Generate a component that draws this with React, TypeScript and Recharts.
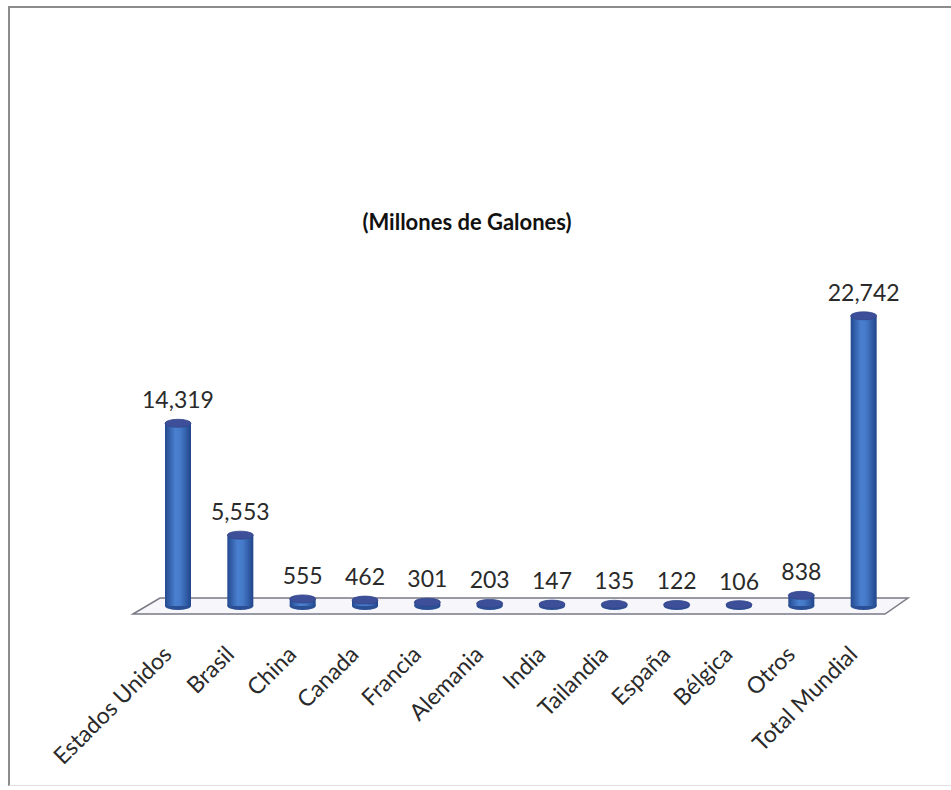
import { Bar, BarChart, LabelList, XAxis, YAxis } from "recharts";

const paises = [
  "Estados Unidos",
  "Brasil",
  "China",
  "Canada",
  "Francia",
  "Alemania",
  "India",
  "Tailandia",
  "España",
  "Bélgica",
  "Otros",
  "Total Mundial",
];

const galones = [14319, 5553, 555, 462, 301, 203, 147, 135, 122, 106, 838, 22742];

const data = paises.map((pais, i) => ({ pais, valor: galones[i] }));

const W = 951;
const H = 790;
const FONT = "Lato, 'Open Sans', sans-serif";

// floor of the 3d plot (decoration only)
const floorBackY = 598;
const floorFrontY = 614;

function Cylinder(props: any) {
  const { x, y, width, height } = props;
  if (x == null || y == null) return null;
  const cx = x + width / 2;
  const rx = width / 2;
  const ry = 4;
  const h = Math.max(height, 0);
  return (
    <g>
      <ellipse cx={cx} cy={y + h} rx={rx} ry={ry} fill="#2b4f94" />
      <rect x={x} y={y} width={width} height={h} fill="url(#cylBody)" />
      <ellipse cx={cx} cy={y} rx={rx} ry={ry} fill="#3d4f98" stroke="#34488c" strokeWidth={0.8} />
    </g>
  );
}

function ValueLabel(props: any) {
  const { x, y, width, value } = props;
  return (
    <text
      x={x + width / 2}
      y={y - 15}
      textAnchor="middle"
      fontFamily={FONT}
      fontSize={23}
      fill="#2a2a2a"
    >
      {Number(value).toLocaleString("en-US")}
    </text>
  );
}

function CategoryTick(props: any) {
  const { x, y, payload } = props;
  return (
    <text
      x={0}
      y={0}
      textAnchor="end"
      fontFamily={FONT}
      fontSize={23}
      fill="#2a2a2a"
      transform={`translate(${x - 5},${y + 42}) rotate(-45)`}
    >
      {payload.value}
    </text>
  );
}

export default function App() {
  return (
    <div style={{ position: "absolute", left: 0, top: 0, width: W, height: H, background: "#fff" }}>
      <div
        style={{
          position: "absolute",
          left: 8,
          top: 6,
          width: W - 8,
          height: 780,
          borderTop: "2px solid #8c8c8c",
          borderLeft: "2px solid #8c8c8c",
          borderBottom: "1px solid #e2e2e2",
          boxSizing: "border-box",
        }}
      />
      <svg width={W} height={H} style={{ position: "absolute", left: 0, top: 0 }}>
        <polygon
          points={`133,${floorFrontY} 160,${floorBackY} 908,${floorBackY} 885,${floorFrontY}`}
          fill="#f7f7fb"
          stroke="#7a7a86"
          strokeWidth={1.5}
        />
        <text
          x={467}
          y={230}
          textAnchor="middle"
          fontFamily={FONT}
          fontWeight="bold"
          fontSize={22}
          fill="#111"
        >
          (Millones de Galones)
        </text>
      </svg>
      <div style={{ position: "absolute", left: 0, top: 0 }}>
        <BarChart
          width={W}
          height={H}
          data={data}
          margin={{ top: 287, right: 56, bottom: 34, left: 147 }}
        >
          <defs>
            <linearGradient id="cylBody" x1="0" y1="0" x2="1" y2="0">
              <stop offset="0%" stopColor="#24498f" />
              <stop offset="40%" stopColor="#4a80d0" />
              <stop offset="60%" stopColor="#4579c8" />
              <stop offset="100%" stopColor="#21458a" />
            </linearGradient>
          </defs>
          <XAxis
            dataKey="pais"
            height={150}
            interval={0}
            tickLine={false}
            axisLine={false}
            tick={<CategoryTick />}
          />
          <YAxis hide domain={[0, 25000]} />
          <Bar dataKey="valor" barSize={26} shape={<Cylinder />} isAnimationActive={false}>
            <LabelList dataKey="valor" content={<ValueLabel />} />
          </Bar>
        </BarChart>
      </div>
    </div>
  );
}
